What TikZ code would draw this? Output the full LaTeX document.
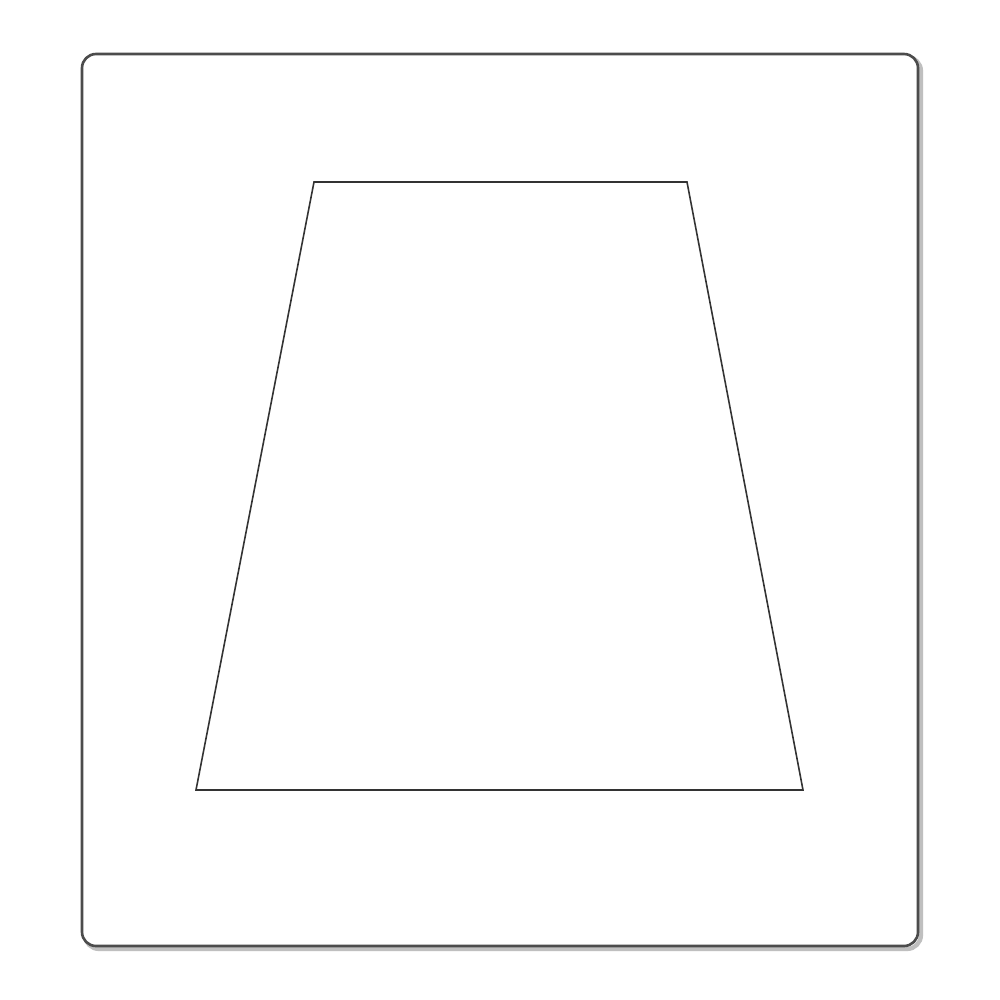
\documentclass[tikz,border=0pt]{standalone}
\begin{document}
\begin{tikzpicture}[x=0.01cm,y=-0.01cm,
  frame/.style={draw=black!70,line width=0.75pt,rounded corners=0.14cm,fill=white},
  shadow/.style={draw=black!25,line width=1.2pt,rounded corners=0.14cm},
  cut/.style={draw=black!80,line width=0.45pt,line join=miter}]
\useasboundingbox (0,0) rectangle (1000,1000);
\fill[white] (0,0) rectangle (1000,1000);
\draw[shadow] (85,57) rectangle (921,949);
\draw[frame] (82,54) rectangle (918,946);
\draw[cut] (314,182) -- (687,182) -- (803,790) -- (196,790) -- cycle;
\end{tikzpicture}
\end{document}
